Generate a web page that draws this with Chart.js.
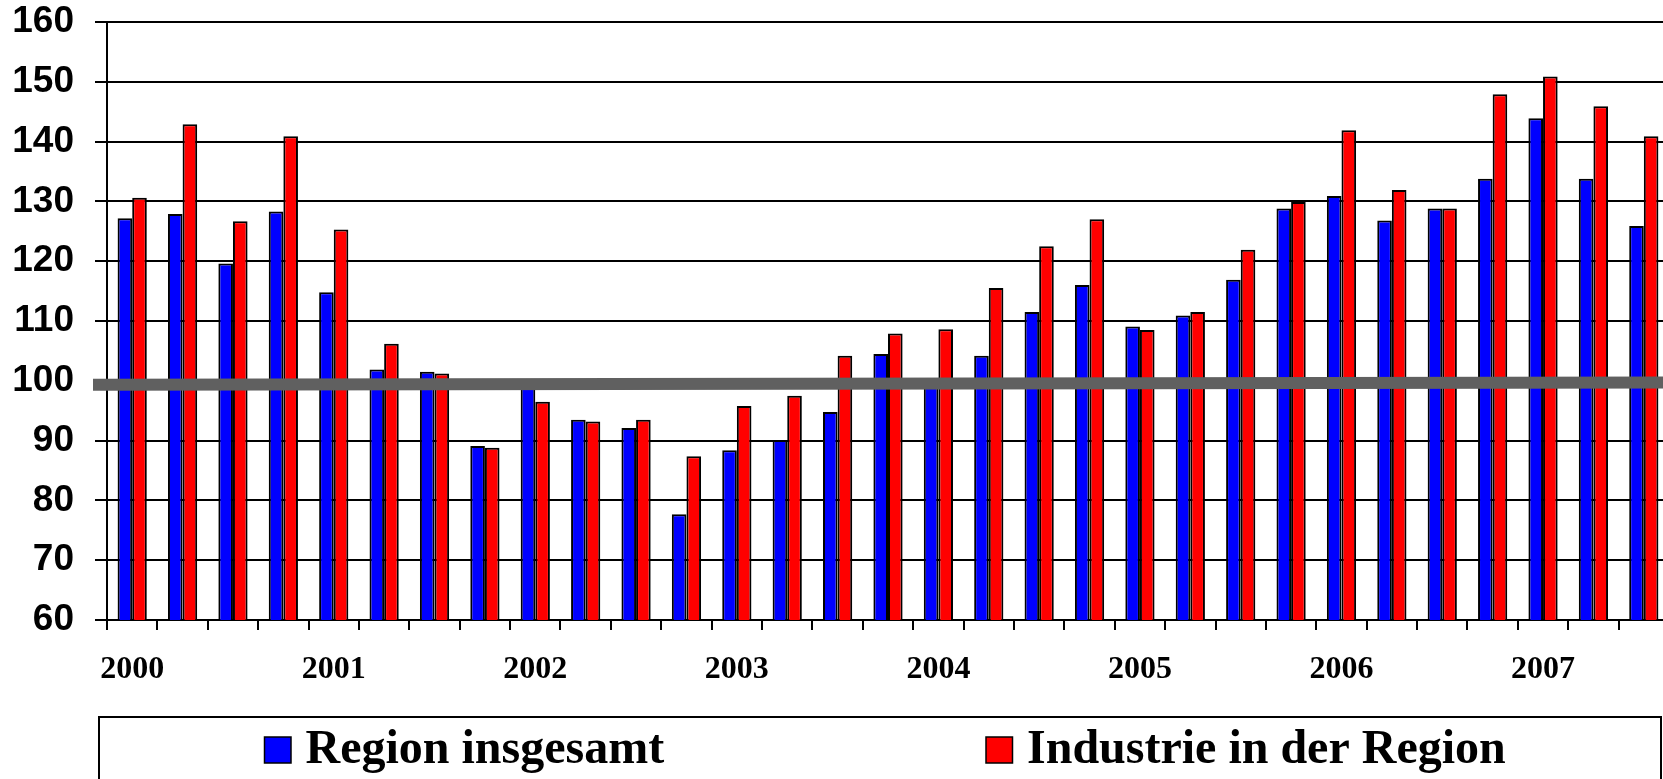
<!DOCTYPE html>
<html>
<head>
<meta charset="utf-8">
<title>Region insgesamt / Industrie in der Region</title>
<script src="https://cdn.jsdelivr.net/npm/chart.js@4.4.1/dist/chart.umd.min.js"></script>
<style>
    html, body { margin: 0; padding: 0; background: #fff; overflow: hidden; }
    #wrap { position: absolute; left: 0; top: 0; width: 1672px; height: 779px; }
</style>
</head>
<body>
<div id="wrap"><canvas id="chart"></canvas></div>
<script>
// ==================== Daten ====================
const years = ['2000', '2001', '2002', '2003', '2004', '2005', '2006', '2007']
const quarters = ['I', 'II', 'III', 'IV']
// 31 Quartale: I/2000 bis III/2007
const periods = years.flatMap(y => quarters.map(q => q + '/' + y)).slice(0, 31)

const regionValues = [
    127.2, 127.9, 119.6, 128.3, 114.8, 101.9, 101.5, 89.1,
    99.3, 93.5, 92.1, 77.7, 88.4, 90.1, 94.8, 104.5,
    99.8, 104.2, 111.5, 116.0, 109.1, 110.9, 116.9, 128.8,
    130.9, 126.8, 128.8, 133.8, 143.9, 133.8, 125.9
]
const industryValues = [
    130.6, 142.9, 126.7, 140.9, 125.3, 106.2, 101.2, 88.8,
    96.5, 93.2, 93.5, 87.4, 95.8, 97.5, 104.2, 107.9,
    108.6, 115.5, 122.5, 127.0, 108.5, 111.5, 121.9, 129.9,
    141.9, 131.9, 128.8, 147.9, 150.9, 145.9, 140.9
]
const yTicks = [60, 70, 80, 90, 100, 110, 120, 130, 140, 150, 160]
// grauer Referenzstrich bei 100 (links / rechts, leicht schief)
const baseLine = [99.35, 99.7]

// ==================== Plugins ====================
const baseLinePlugin = {
    id: 'baseLine',
    afterDatasetsDraw(chart) {
        const { ctx, chartArea, scales: { y } } = chart
        ctx.save()
        ctx.strokeStyle = '#606060'
        ctx.lineWidth = 12
        ctx.beginPath()
        ctx.moveTo(chartArea.left - 14, y.getPixelForValue(baseLine[0]))
        ctx.lineTo(chart.width, y.getPixelForValue(baseLine[1]))
        ctx.stroke()
        ctx.restore()
    }
}

// Legende im Kasten unter dem Diagramm
const boxLegendPlugin = {
    id: 'boxLegend',
    afterDraw(chart) {
        const { ctx, chartArea } = chart
        const left = chartArea.left - 8
        const top = chartArea.bottom + 97
        const right = chart.width - 11
        ctx.save()
        ctx.lineWidth = 2
        ctx.strokeStyle = '#000'
        ctx.strokeRect(left, top, right - left, chart.height - top + 10)

        const offsets = [165.5, 887]
        ctx.font = 'bold 48px "Liberation Serif"'
        ctx.textBaseline = 'alphabetic'
        ctx.textAlign = 'left'
        chart.data.datasets.forEach((ds, i) => {
            const x = left + offsets[i]
            ctx.fillStyle = ds.backgroundColor
            ctx.fillRect(x, top + 20, 26.5, 26)
            ctx.lineWidth = 1.5
            ctx.strokeRect(x, top + 20, 26.5, 26)
            ctx.fillStyle = '#000'
            ctx.fillText(ds.label, x + 41, top + 46)
        })
        ctx.restore()
    }
}

// ==================== Diagramm ====================
new Chart(document.getElementById('chart'), {
    type: 'bar',
    data: {
        labels: periods,
        datasets: [{
            label: 'Region insgesamt',
            data: regionValues,
            backgroundColor: '#0000FF',
            borderColor: '#000',
            borderWidth: 2
        }, {
            label: 'Industrie in der Region',
            data: industryValues,
            backgroundColor: '#FF0000',
            borderColor: '#000',
            borderWidth: 2
        }]
    },
    options: {
        responsive: true,
        maintainAspectRatio: false,
        animation: false,
        layout: { padding: { left: 12, right: 3, top: 0, bottom: 89 } },
        plugins: {
            legend: { display: false },
            tooltip: { enabled: false }
        },
        datasets: {
            bar: { categoryPercentage: 0.58, barPercentage: 1 }
        },
        scales: {
            x: {
                offset: true,
                grid: {
                    offset: true,
                    drawOnChartArea: false,
                    drawTicks: true,
                    tickLength: 10,
                    color: '#000',
                    lineWidth: 2
                },
                border: { display: true, color: '#000', width: 2 },
                ticks: {
                    autoSkip: false,
                    maxRotation: 0,
                    padding: 21,
                    color: '#000',
                    font: { family: 'Liberation Serif', size: 32, weight: 'bold' },
                    callback: (v, i) => (i % 4 === 0 ? years[i / 4] : '')
                },
                afterFit: (s) => { s.height = 70 }
            },
            y: {
                min: yTicks[0],
                max: yTicks[yTicks.length - 1],
                ticks: {
                    stepSize: yTicks[1] - yTicks[0],
                    padding: 21,
                    color: '#000',
                    font: { family: 'Liberation Sans', size: 37, weight: 'bold' }
                },
                grid: { color: '#000', lineWidth: 2, tickLength: 12 },
                border: { color: '#000', width: 2 },
                afterFit: (s) => {
                    s.width = 95
                    s.paddingTop = 22
                    s.paddingBottom = 0
                }
            }
        }
    },
    plugins: [baseLinePlugin, boxLegendPlugin]
})
</script>
</body>
</html>
